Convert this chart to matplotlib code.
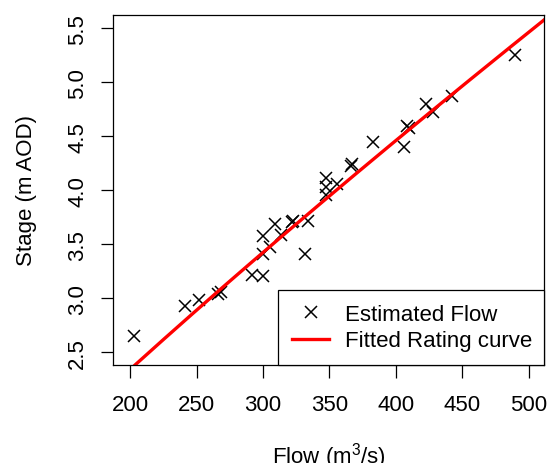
import numpy as np
import matplotlib
matplotlib.use("Agg")
import matplotlib.pyplot as plt

plt.rcParams['font.family'] = ['Liberation Sans', 'DejaVu Sans']
plt.rcParams['mathtext.fontset'] = 'custom'
plt.rcParams['mathtext.rm'] = 'Liberation Sans'
plt.rcParams['mathtext.it'] = 'Liberation Sans'

# Estimated flow observations (m3/s) and stage (m AOD)
flow = [489.6, 442.0, 422.6, 428.1, 408.6, 409.6, 406.1, 382.5, 366.8, 366.0,
        355.9, 347.4, 347.4, 347.4, 334.1, 322.4, 321.6, 309.1, 313.4, 299.8,
        305.3, 299.8, 331.6, 291.5, 300.3, 266.4, 268.4, 251.9, 241.4, 203.2]
stage = [5.253, 4.876, 4.799, 4.728, 4.599, 4.575, 4.399, 4.445, 4.244, 4.223,
         4.059, 4.112, 4.029, 3.957, 3.720, 3.720, 3.705, 3.689, 3.587, 3.575,
         3.473, 3.411, 3.411, 3.217, 3.211, 3.041, 3.057, 2.989, 2.933, 2.650]

# Fitted rating curve: stage = h0 + k * Q**p
h0, k, p = -0.219, 0.0255, 0.87
q_curve = np.linspace(150, 560, 300)
h_curve = h0 + k * q_curve ** p

xticks = [200, 250, 300, 350, 400, 450, 500]
yticks = [2.5, 3.0, 3.5, 4.0, 4.5, 5.0, 5.5]

fig = plt.figure(figsize=(5.47, 4.64), dpi=100)
ax = fig.add_axes([0.2071, 0.2119, 0.788, 0.7536])

ax.plot(flow, stage, linestyle='none', marker='x', color='black',
        markersize=8, markeredgewidth=1.1, label='Estimated Flow')
ax.plot(q_curve, h_curve, color='#FF0000', linewidth=2.4, label='Fitted Rating curve')

ax.set_xlim(187.4, 511.6)
ax.set_ylim(2.387, 5.623)
ax.set_xticks(xticks)
ax.set_yticks(yticks)
ax.set_xticklabels([str(v) for v in xticks])
ax.set_yticklabels([f"{v:.1f}" for v in yticks], rotation=90, va='center')

for s in ax.spines.values():
    s.set_linewidth(0.9)
ax.tick_params(axis='both', length=9, width=0.9, labelsize=16, color='black')
ax.tick_params(axis='x', pad=12)
ax.tick_params(axis='y', pad=9)

ax.set_xlabel('Flow (m$^{3}$/s)', fontsize=16, labelpad=18)
ax.set_ylabel('Stage (m AOD)', fontsize=16, labelpad=22)

x0 = (278.3 - 113.3) / (544.3 - 113.3)
leg = ax.legend(loc='lower left', bbox_to_anchor=(x0, 0, 1 - x0, 0.2), mode='expand',
                borderaxespad=0, fontsize=16, frameon=True, fancybox=False,
                edgecolor='black', framealpha=1, handlelength=1.7,
                handletextpad=0.7, borderpad=0.6, labelspacing=0.25)
leg.get_frame().set_linewidth(0.9)

fig.savefig('out.png', dpi=100)
